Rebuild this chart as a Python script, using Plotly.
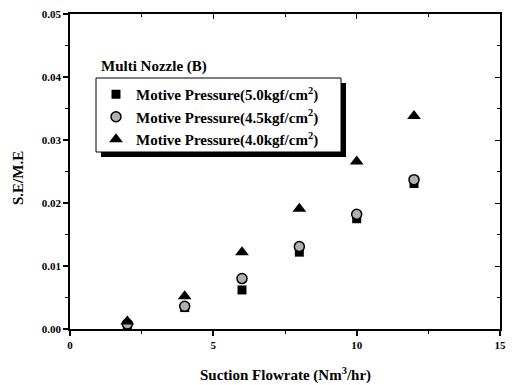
import plotly.graph_objects as go

flow = [2, 4, 6, 8, 10, 12]
p50 = [0.0005, 0.0034, 0.0062, 0.0122, 0.0175, 0.0231]
p45 = [0.0008, 0.0036, 0.0080, 0.0131, 0.0182, 0.0237]
p40 = [0.0012, 0.0052, 0.0122, 0.0191, 0.0266, 0.0338]
names = ["Motive Pressure(5.0kgf/cm<sup>2</sup>)",
         "Motive Pressure(4.5kgf/cm<sup>2</sup>)",
         "Motive Pressure(4.0kgf/cm<sup>2</sup>)"]

FONT = "Liberation Serif"
L, R, T, B, W, H = 70, 12, 14, 56, 512, 385
PW, PH = W - L - R, H - T - B

def px(x):
    return (x - L) / PW

def py(y):
    return (H - B - y) / PH

fig = go.Figure()
fig.add_trace(go.Scatter(x=flow, y=p50, mode="markers", name=names[0],
                         marker=dict(symbol="square", size=9, color="black")))
fig.add_trace(go.Scatter(x=flow, y=p45, mode="markers", name=names[1],
                         marker=dict(symbol="circle", size=10, color="#b0b0b0",
                                     line=dict(color="black", width=1.5))))
fig.add_trace(go.Scatter(x=flow, y=p40, mode="markers", name=names[2],
                         marker=dict(symbol="triangle-up", size=12, color="black")))

axis_common = dict(showgrid=False, zeroline=False, linecolor="black", linewidth=1.5,
                   ticks="outside", ticklen=5, tickwidth=1.5, tickcolor="black",
                   automargin=False,
                   tickfont=dict(family=FONT, size=11, color="black", weight="bold"))

fig.update_layout(
    width=W, height=H,
    margin=dict(l=L, r=R, t=T, b=B),
    paper_bgcolor="white", plot_bgcolor="white",
    font=dict(family=FONT, color="black"),
    xaxis=dict(range=[0, 15], tickvals=[0, 5, 10, 15], ticktext=["0", "5", "10", "15"],
               minor=dict(tickvals=[2.5, 7.5, 12.5], ticks="outside", ticklen=3,
                          tickcolor="black", tickwidth=1),
               **axis_common),
    yaxis=dict(range=[0, 0.05], tickvals=[0, 0.01, 0.02, 0.03, 0.04, 0.05],
               ticktext=["0.00", "0.01", "0.02", "0.03", "0.04", "0.05"],
               minor=dict(tickvals=[0.005, 0.015, 0.025, 0.035, 0.045], ticks="outside",
                          ticklen=3, tickcolor="black", tickwidth=1),
               **axis_common),
    xaxis2=dict(range=[0, 15], overlaying="x", side="top", showgrid=False, zeroline=False,
                linecolor="black", linewidth=1.5, ticks="inside", ticklen=5,
                tickvals=[0, 5, 10, 15], showticklabels=False, tickcolor="black",
                automargin=False,
                minor=dict(tickvals=[2.5, 7.5, 12.5], ticks="inside", ticklen=3,
                           tickcolor="black")),
    yaxis2=dict(range=[0, 0.05], overlaying="y", side="right", showgrid=False, zeroline=False,
                linecolor="black", linewidth=1.5, ticks="inside", ticklen=5,
                tickvals=[0, 0.01, 0.02, 0.03, 0.04, 0.05], showticklabels=False,
                tickcolor="black", automargin=False,
                minor=dict(tickvals=[0.005, 0.015, 0.025, 0.035, 0.045], ticks="inside",
                           ticklen=3, tickcolor="black")),
    legend=dict(x=px(96), y=py(78), xanchor="left", yanchor="top",
                bgcolor="rgba(0,0,0,0)", borderwidth=0,
                font=dict(family=FONT, size=15, color="black", weight="bold"),
                itemwidth=30, tracegroupgap=0),
    showlegend=True,
    shapes=[
        dict(type="rect", xref="paper", yref="paper",
             x0=px(101), x1=px(346), y0=py(157), y1=py(83),
             fillcolor="black", line=dict(width=0), layer="above"),
        dict(type="rect", xref="paper", yref="paper",
             x0=px(96), x1=px(341), y0=py(152), y1=py(78),
             fillcolor="white", line=dict(color="black", width=1), layer="above"),
    ],
    annotations=[
        dict(text="<b>Multi Nozzle (B)</b>", x=px(99), y=py(67), xref="paper",
             yref="paper", xanchor="left", yanchor="middle", showarrow=False,
             font=dict(family=FONT, size=15, color="black")),
        dict(text="<b>Suction Flowrate (Nm<sup>3</sup>/hr)</b>", x=px(285), y=py(374),
             xref="paper", yref="paper", xanchor="center", yanchor="middle",
             showarrow=False, font=dict(family=FONT, size=15, color="black")),
        dict(text="<b>S.E/M.E</b>", x=px(18), y=py(178), textangle=-90,
             xref="paper", yref="paper", xanchor="center", yanchor="middle",
             showarrow=False, font=dict(family=FONT, size=15, color="black")),
    ],
)
fig.add_trace(go.Scatter(x=[None], y=[None], xaxis="x2", yaxis="y2", showlegend=False))

fig.write_html("out.html", config={"displayModeBar": False},
               post_script="document.body.style.margin='0';")
